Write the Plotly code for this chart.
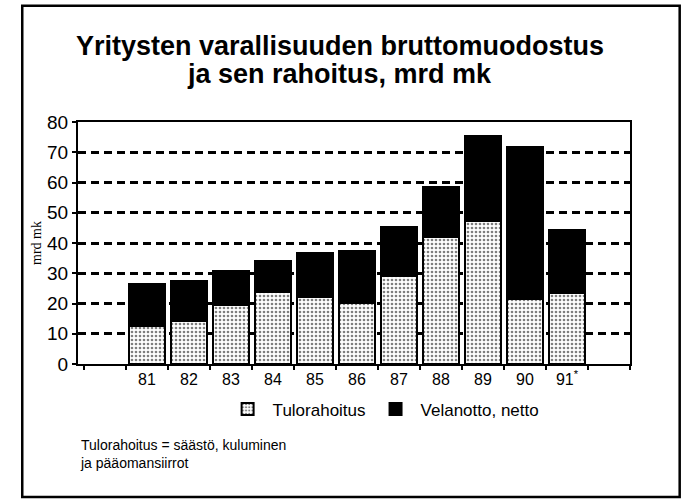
import plotly.graph_objects as go

# --- data (mrd mk)
years = ['81', '82', '83', '84', '85', '86', '87', '88', '89', '90', '91<sup>*</sup>']
tulorahoitus = [12.5, 14.2, 19.4, 23.8, 22.2, 20.2, 29.0, 42.0, 47.2, 21.6, 23.5]
velanotto = [14.0, 13.1, 11.2, 10.4, 14.4, 17.3, 16.2, 16.4, 28.1, 50.0, 20.8]
y_ticks = [0, 10, 20, 30, 40, 50, 60, 70, 80]
title_lines = ['Yritysten varallisuuden bruttomuodostus', 'ja sen rahoitus, mrd mk']

x_pos = list(range(1, len(years) + 1))
font = 'Liberation Sans, Arial, sans-serif'

fig = go.Figure()
fig.add_trace(go.Bar(x=x_pos, y=tulorahoitus, name='Tulorahoitus', width=0.86,
                     marker=dict(color='white', line=dict(color='black', width=2),
                                 pattern=dict(shape='.', fgcolor='black', bgcolor='white',
                                              size=4, solidity=0.35))))
fig.add_trace(go.Bar(x=x_pos, y=velanotto, name='Velanotto, netto', width=0.86,
                     marker=dict(color='black', line=dict(color='black', width=2))))

# outer frame round the whole picture
fig.add_shape(type='rect', xref='paper', yref='paper', x0=-0.101, x1=1.09, y0=-0.55, y1=1.48,
              line=dict(color='black', width=2.5), fillcolor='rgba(0,0,0,0)', layer='below')

# title, one annotation per line so the spacing can be set
for txt, yy in zip(title_lines, [1.312, 1.2]):
    fig.add_annotation(xref='paper', yref='paper', x=0.474, y=yy, xanchor='center',
                       yanchor='middle', showarrow=False, text=f'<b>{txt}</b>',
                       font=dict(family=font, size=27, color='black'))

fig.add_annotation(xref='paper', yref='paper', x=0.0, y=-0.295, xanchor='left', yanchor='top',
                   align='left', showarrow=False,
                   text='Tulorahoitus = säästö, kuluminen<br>ja pääomansiirrot',
                   font=dict(family=font, size=14, color='black'))

fig.update_layout(
    barmode='stack',
    width=683, height=502,
    margin=dict(l=78, r=53, t=122, b=138, autoexpand=False),
    paper_bgcolor='white', plot_bgcolor='white',
    font=dict(family=font, color='black'),
    legend=dict(orientation='h', x=0.262, y=-0.113, xanchor='left', yanchor='top',
                font=dict(family=font, size=17, color='black'), itemwidth=40,
                traceorder='normal'),
    showlegend=True,
)
fig.update_xaxes(range=[-0.64, 12.5], tickvals=x_pos, ticktext=years, ticks='',
                 tickfont=dict(size=16), showline=True, linecolor='black', linewidth=2,
                 mirror=True, showgrid=False, zeroline=False, automargin=False,
                 minor=dict(tick0=0.5, dtick=1, ticks='outside', ticklen=4,
                            tickcolor='black', tickwidth=2))
fig.update_yaxes(range=[0, 80], tickvals=y_ticks, ticks='outside', ticklen=4, tickwidth=2,
                 tickcolor='black', tickfont=dict(size=19), showline=True, linecolor='black',
                 linewidth=2, mirror=True, showgrid=True, gridcolor='black', gridwidth=3,
                 griddash='8px,5px', zeroline=False, automargin=False,
                 title=dict(text='mrd mk', standoff=2,
                            font=dict(family='Liberation Serif, Times New Roman, serif', size=14)))

fig.write_html('out.html', config={'displayModeBar': False},
               post_script="document.body.style.margin='0';")
